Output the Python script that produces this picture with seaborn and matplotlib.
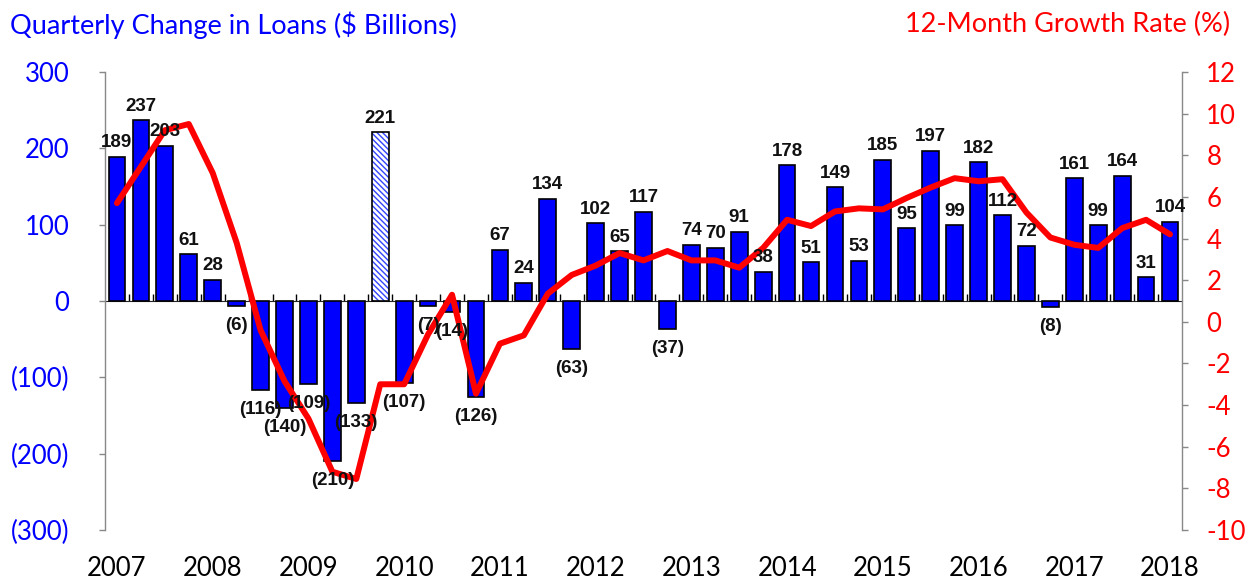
import numpy as np
import pandas as pd
import seaborn as sns
import matplotlib.pyplot as plt
from matplotlib.patches import Rectangle

# quarterly change in loans ($ billions), 2007Q1 - 2018Q1
change = [189, 237, 203, 61, 28, -6, -116, -140, -109, -210, -133, 221,
          -107, -7, -14, -126, 67, 24, 134, -63, 102, 65, 117, -37,
          74, 70, 91, 38, 178, 51, 149, 53, 185, 95, 197, 99,
          182, 112, 72, -8, 161, 99, 164, 31, 104]
# 12-month growth rate (%)
growth = [5.7, 7.45, 9.2, 9.5, 7.15, 3.8, -0.4, -2.85, -4.65, -7.2, -7.55, -3.0,
          -3.0, -0.6, 1.3, -3.45, -1.05, -0.65, 1.35, 2.25, 2.7, 3.3, 2.95, 3.4,
          2.95, 2.95, 2.6, 3.55, 4.9, 4.6, 5.3, 5.45, 5.4, 5.95, 6.45, 6.9,
          6.75, 6.85, 5.25, 4.05, 3.7, 3.55, 4.5, 4.9, 4.2]
years = list(range(2007, 2019))
quarters = [f"{y}Q{q}" for y in years for q in range(1, 5)][:len(change)]
hatched = "2009Q4"

df = pd.DataFrame({'quarter': quarters, 'change': change, 'growth': growth})
df['pos'] = np.arange(len(df))

sns.set_style('white')
plt.rcParams['font.family'] = ['Lato', 'DejaVu Sans']
plt.rcParams['axes.unicode_minus'] = False

fig = plt.figure(figsize=(12.5, 5.8), dpi=100)
ax = fig.add_axes([0.084, 0.0862, 0.8616, 0.7897])

sns.barplot(data=df, x='quarter', y='change', order=quarters, color='#0000FF',
            saturation=1, width=0.7, edgecolor='black', linewidth=1.2, ax=ax)

# the odd quarter drawn hatched
bars = ax.containers[0]
hp = bars.patches[quarters.index(hatched)]
hp.set_facecolor('white')
hp.set_edgecolor('#3344FF')
hp.set_hatch('\\\\\\\\\\\\')
hp.set_linewidth(0)
ax.add_patch(Rectangle((hp.get_x(), hp.get_y()), hp.get_width(), hp.get_height(),
                       fill=False, edgecolor='black', linewidth=1.2, zorder=hp.get_zorder() + 0.1))

ax.set_ylim(-300, 300)
ax.set_xlim(-0.5, len(change) - 0.5)
ax.set_yticks(range(-300, 301, 100))
ax.set_yticklabels([f"({-v})" if v < 0 else f"{v}" for v in range(-300, 301, 100)],
                   color='#0000FF', fontsize=18.5)
ax.set_xticks(range(0, len(change), 4))
ax.set_xticklabels([str(y) for y in years], fontsize=18.5, color='black')
ax.tick_params(axis='x', length=0, pad=19)
ax.tick_params(axis='y', length=4.5, width=1, color='#888888', direction='out', left=True, pad=21)
ax.set_xlabel('')
ax.set_ylabel('')
for s in ['top', 'bottom', 'right']:
    ax.spines[s].set_visible(False)
ax.spines['left'].set_color('#888888')
ax.spines['left'].set_linewidth(1)

# zero line with tick marks between bars
zx = ax.secondary_xaxis(0.5)
zx.set_xticks(np.arange(0.5, len(change) - 1, 1))
zx.set_xticklabels([])
zx.tick_params(length=5, width=1, color='black', direction='out')
zx.spines['bottom'].set_color('black')
zx.spines['bottom'].set_linewidth(1)

ax2 = ax.twinx()
sns.lineplot(data=df, x='pos', y='growth', color='#FF0000', linewidth=4.3, ax=ax2, zorder=5)
ax2.set_ylim(-10, 12)
ax2.set_yticks(range(-10, 13, 2))
ax2.set_yticklabels([str(v) for v in range(-10, 13, 2)], color='#FF0000', fontsize=18.5)
ax2.tick_params(axis='y', length=4.5, width=1, color='#888888', direction='out', right=True, pad=13)
ax2.set_ylabel('')
ax2.set_xlabel('')
for s in ['top', 'bottom', 'left']:
    ax2.spines[s].set_visible(False)
ax2.spines['right'].set_color('#888888')
ax2.spines['right'].set_linewidth(1)
ax2.set_xlim(-0.5, len(change) - 0.5)

# value labels above the line
for p, v in zip(df['pos'], df['change']):
    ax2.annotate(f"({-v})" if v < 0 else f"{v}", xy=(p, v), xycoords=ax.transData,
                 xytext=(0, 4 if v >= 0 else -8), textcoords='offset points',
                 ha='center', va='bottom' if v >= 0 else 'top',
                 fontsize=13.5, fontweight='bold', color='#111111',
                 family=['Liberation Sans', 'DejaVu Sans'], zorder=10)

fig.text(0.008, 0.957, 'Quarterly Change in Loans (\\$ Billions)', color='#0000FF',
         fontsize=19.5, ha='left', va='center')
fig.text(0.984, 0.957, '12-Month Growth Rate (%)', color='#FF0000',
         fontsize=19.5, ha='right', va='center')

fig.savefig('out.png', dpi=100)
